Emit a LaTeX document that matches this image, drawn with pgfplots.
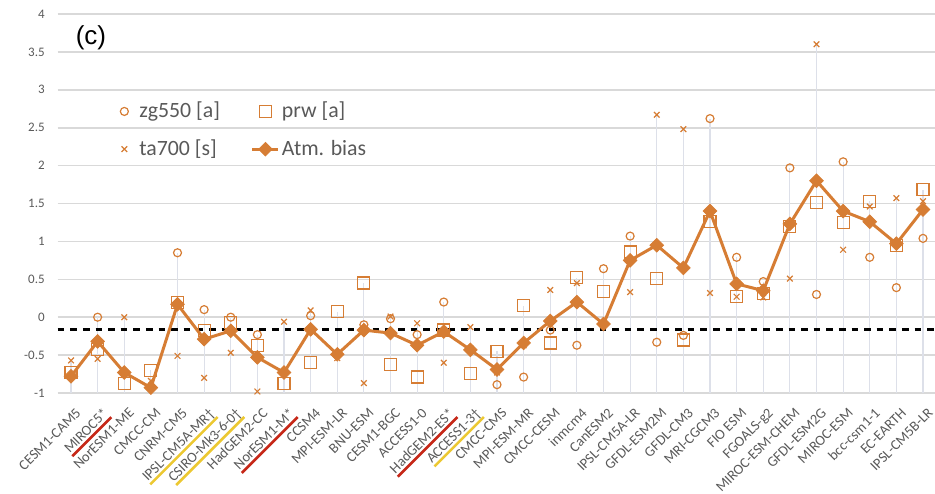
\documentclass[border=0pt]{standalone}
\usepackage{pgfplots}
\usepackage{pgfplotstable}
\pgfplotsset{compat=1.18}
\usepackage{fontspec}
\setmainfont{Carlito}
\newfontfamily\arialfont{Liberation Sans}
\definecolor{org}{RGB}{214,125,52}
\definecolor{lab}{RGB}{89,89,89}
\definecolor{grd}{RGB}{217,217,217}
\definecolor{drop}{RGB}{221,224,233}
\definecolor{ured}{RGB}{198,40,24}
\definecolor{uyel}{RGB}{236,200,50}
\newcommand\ulc[2]{\leavevmode\setbox0\hbox{#2}\rlap{\color{#1}\rule[-2.4pt]{\wd0}{1.3pt}}\box0}

\pgfplotstableread{
x zg prw ta atm
0 -1.04 -0.73 -0.57 -0.78
1 0.00 -0.43 -0.55 -0.32
2 -1.32 -0.87 0.00 -0.73
3 -1.25 -0.70 -0.84 -0.93
4 0.85 0.19 -0.51 0.17
5 0.10 -0.18 -0.80 -0.29
6 0.00 -0.07 -0.47 -0.18
7 -0.23 -0.37 -0.98 -0.53
8 -1.26 -0.87 -0.06 -0.73
9 0.02 -0.60 0.09 -0.16
10 -1.02 0.07 -0.54 -0.49
11 -0.10 0.45 -0.87 -0.17
12 -0.02 -0.62 0.01 -0.21
13 -0.23 -0.79 -0.08 -0.37
14 0.20 -0.17 -0.60 -0.19
15 -0.42 -0.74 -0.13 -0.43
16 -0.89 -0.45 -0.73 -0.69
17 -0.79 0.15 -0.37 -0.34
18 -0.17 -0.34 0.36 -0.05
19 -0.37 0.52 0.45 0.20
20 0.64 0.34 -1.26 -0.09
21 1.07 0.86 0.33 0.75
22 -0.33 0.51 2.67 0.95
23 -0.24 -0.30 2.48 0.65
24 2.62 1.26 0.32 1.40
25 0.79 0.27 0.27 0.44
26 0.47 0.31 0.26 0.35
27 1.97 1.20 0.51 1.23
28 0.30 1.51 3.60 1.80
29 2.05 1.25 0.89 1.40
30 0.79 1.53 1.46 1.26
31 0.39 0.95 1.57 0.97
32 1.04 1.68 1.53 1.42
}\data

\begin{document}
\begin{tikzpicture}
\useasboundingbox (0,0) rectangle (467.5pt,246.5pt);
\begin{axis}[
  at={(28.85pt,50pt)}, anchor=south west,
  scale only axis, width=439.3pt, height=189.5pt,
  xmin=-0.5, xmax=32.5, ymin=-1, ymax=4,
  axis line style={draw=none},
  major tick length=0pt,
  ytick={-1,-0.5,0,0.5,1,1.5,2,2.5,3,3.5,4},
  yticklabels={-1,-0.5,0,0.5,1,1.5,2,2.5,3,3.5,4},
  yticklabel style={font=\fontsize{6.5}{7}\selectfont, text=lab, anchor=east, xshift=-3pt},
  ymajorgrids, grid style={grd, line width=0.8pt},
  xtick={0,...,32},
  xticklabels={CESM1-CAM5,{\ulc{ured}{MIROC5*}},NorESM1-ME,CMCC-CM,CNRM-CM5,{\ulc{uyel}{IPSL-CM5A-MR\textdagger}},{\ulc{uyel}{CSIRO-Mk3-6-0\textdagger}},HadGEM2-CC,{\ulc{ured}{NorESM1-M*}},CCSM4,MPI-ESM-LR,BNU-ESM,CESM1-BGC,ACCESS1-0,{\ulc{ured}{HadGEM2-ES*}},{\ulc{uyel}{ACCESS1-3\textdagger}},CMCC-CMS,MPI-ESM-MR,CMCC-CESM,inmcm4,CanESM2,IPSL-CM5A-LR,GFDL-ESM2M,GFDL-CM3,MRI-CGCM3,FIO ESM,FGOALS-g2,MIROC-ESM-CHEM,GFDL-ESM2G,MIROC-ESM,bcc-csm1-1,EC-EARTH,IPSL-CM5B-LR},
  xticklabel style={font=\fontsize{7.2}{8}\selectfont, text=lab, xshift=2pt, yshift=-5.5pt, rotate=45, anchor=north east, inner sep=1pt},
  unbounded coords=jump,
  legend columns=2,
  legend image code/.code={\path[draw=none,fill=none] (0pt,0pt) -- (13pt,0pt); \draw[mark repeat=2,mark phase=2,#1] plot coordinates {(0pt,0pt) (6.5pt,0pt) (13pt,0pt)};},
  legend style={at={(axis cs:1.5,2.87)}, anchor=north west, draw=none, fill=none,
    font=\fontsize{10.9}{12}\selectfont, text=lab, inner sep=0pt, row sep=7.5pt,
    nodes={inner sep=1pt, anchor=west},
    /tikz/every even column/.append style={column sep=14.5pt}},
]
% drop lines
\addplot[drop, line width=0.6pt, forget plot] coordinates {
(0,-1) (0,-0.57) (0,nan) (1,-1) (1,0.00) (1,nan) (2,-1) (2,0.00) (2,nan)
(3,-1) (3,-0.70) (3,nan) (4,-1) (4,0.85) (4,nan) (5,-1) (5,0.10) (5,nan)
(6,-1) (6,0.00) (6,nan) (7,-1) (7,-0.23) (7,nan) (8,-1) (8,-0.06) (8,nan)
(9,-1) (9,0.09) (9,nan) (10,-1) (10,0.07) (10,nan) (11,-1) (11,0.45) (11,nan)
(12,-1) (12,0.01) (12,nan) (13,-1) (13,-0.08) (13,nan) (14,-1) (14,0.20) (14,nan)
(15,-1) (15,-0.13) (15,nan) (16,-1) (16,-0.45) (16,nan) (17,-1) (17,0.15) (17,nan)
(18,-1) (18,0.36) (18,nan) (19,-1) (19,0.52) (19,nan) (20,-1) (20,0.64) (20,nan)
(21,-1) (21,1.07) (21,nan) (22,-1) (22,2.67) (22,nan) (23,-1) (23,2.48) (23,nan)
(24,-1) (24,2.62) (24,nan) (25,-1) (25,0.79) (25,nan) (26,-1) (26,0.47) (26,nan)
(27,-1) (27,1.97) (27,nan) (28,-1) (28,3.60) (28,nan) (29,-1) (29,2.05) (29,nan)
(30,-1) (30,1.53) (30,nan) (31,-1) (31,1.57) (31,nan) (32,-1) (32,1.68)
};
% reference dashed line
\addplot[black, line width=1.3pt, dash pattern=on 3.3pt off 3pt, forget plot] coordinates {(-0.5,-0.16) (32.5,-0.16)};
\addplot[only marks, mark=o, mark size=2pt, org, mark options={line width=0.6pt}, restrict y to domain=-1:4] table[x=x, y=zg] {\data};
\addlegendentry{zg550 [a]}
\addplot[only marks, mark=square, mark size=3pt, org, mark options={line width=0.6pt}, restrict y to domain=-1:4] table[x=x, y=prw] {\data};
\addlegendentry{prw [a]}
\addplot[only marks, mark=x, mark size=2pt, org, mark options={line width=0.6pt}, restrict y to domain=-1:4] table[x=x, y=ta] {\data};
\addlegendentry{ta700 [s]}
\addplot[org, line width=1.5pt, mark=square*, mark size=2.4pt, mark options={rotate=45, line width=0.4pt}] table[x=x, y=atm] {\data};
\addlegendentry{Atm. bias}
\node[font=\arialfont\fontsize{13}{14}\selectfont, text=black] at (axis cs:0.75,3.69) {(c)};
\end{axis}
\end{tikzpicture}
\end{document}
